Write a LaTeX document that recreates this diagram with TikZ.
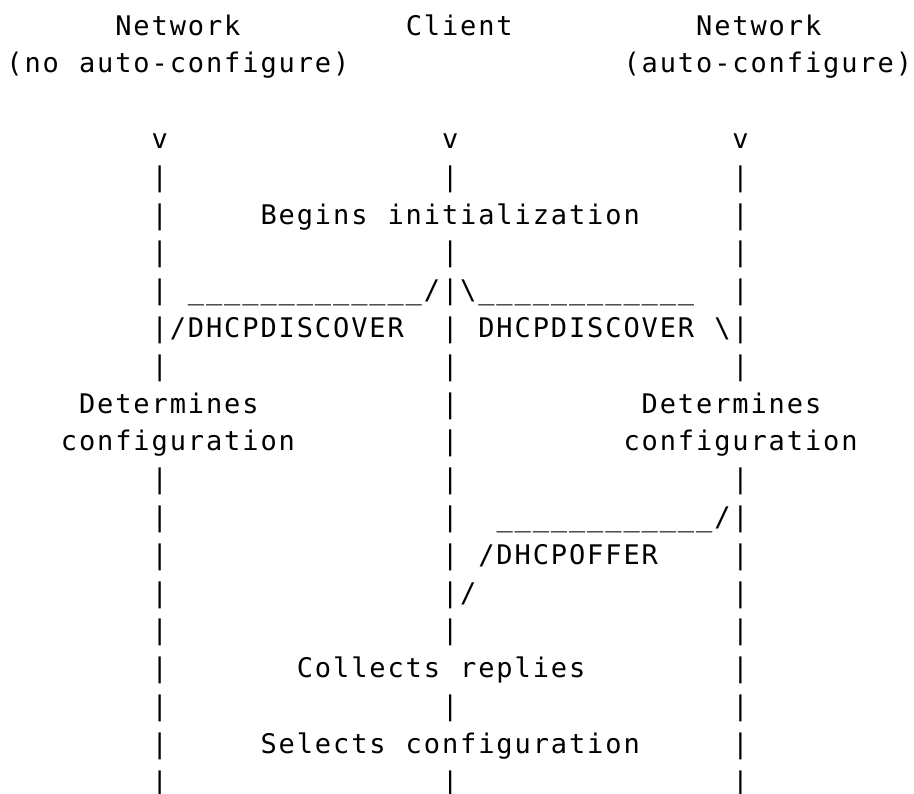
\documentclass[tikz,border=0pt]{standalone}
\usepackage{fontspec}
\newfontfamily\dejamono{DejaVu Sans Mono}
\newlength\cw
\setlength\cw{13.6125pt}
\ExplSyntaxOn
\NewDocumentCommand\mono{m}{\tl_map_inline:nn {#1} {\makebox[\cw][c]{##1}}}
\ExplSyntaxOff
\tikzset{
  declare function={cx(\c)=5.5+\c*18.15; ry(\r)=35+(\r-1)*37.8;},
  txt/.style={anchor=base west, inner sep=0pt, outer sep=0pt, text=black,
    font=\dejamono\fontsize{20.25pt}{24pt}\selectfont},
}
\begin{document}
\begin{tikzpicture}[x=0.75pt,y=-0.75pt]
\fill[white] (0,0) rectangle (914,793);
\useasboundingbox (0,0) rectangle (914,793);
% headers
\node[txt] (hL) at ({cx(6)},{ry(1)}) {\mono{Network}};
\node[txt] (hC) at ({cx(22)},{ry(1)}) {\mono{Client}};
\node[txt] (hR) at ({cx(38)},{ry(1)}) {\mono{Network}};
\node[txt] (sL) at ({cx(0)},{ry(2)}) {\mono{(no~auto-configure)}};
\node[txt] (sR) at ({cx(34)},{ry(2)}) {\mono{(auto-configure)}};
% arrows heads of lifelines
\node[txt] (vL) at ({cx(8)},{ry(4)}) {\mono{v}};
\node[txt] (vC) at ({cx(24)},{ry(4)}) {\mono{v}};
\node[txt] (vR) at ({cx(40)},{ry(4)}) {\mono{v}};
% lifelines
\foreach \r in {5,6,7,8,9,10,13,14,15,16,17,18,19,20,21}{
  \node[txt] (lL\r) at ({cx(8)},{ry(\r)}) {\mono{|}};
  \node[txt] (lR\r) at ({cx(40)},{ry(\r)}) {\mono{|}};
}
\foreach \r in {5,7,8,9,10,11,12,13,14,15,16,17,19,21}{
  \node[txt] (lC\r) at ({cx(24)},{ry(\r)}) {\mono{|}};
}
% messages and actions
\node[txt] (begins) at ({cx(14)},{ry(6)}) {\mono{Begins~initialization}};
\node[txt] (d1a) at ({cx(10)},{ry(8)}) {\mono{\_\_\_\_\_\_\_\_\_\_\_\_\_/}};
\node[txt] (d2a) at ({cx(25)},{ry(8)}) {\mono{\textbackslash\_\_\_\_\_\_\_\_\_\_\_\_}};
\node[txt] (d1b) at ({cx(9)},{ry(9)}) {\mono{/DHCPDISCOVER}};
\node[txt] (d2b) at ({cx(26)},{ry(9)}) {\mono{DHCPDISCOVER}};
\node[txt] (d2c) at ({cx(39)},{ry(9)}) {\mono{\textbackslash}};
\node[txt] (detL) at ({cx(4)},{ry(11)}) {\mono{Determines}};
\node[txt] (detR) at ({cx(35)},{ry(11)}) {\mono{Determines}};
\node[txt] (cfgL) at ({cx(3)},{ry(12)}) {\mono{configuration}};
\node[txt] (cfgR) at ({cx(34)},{ry(12)}) {\mono{configuration}};
\node[txt] (o1) at ({cx(27)},{ry(14)}) {\mono{\_\_\_\_\_\_\_\_\_\_\_\_/}};
\node[txt] (o2) at ({cx(26)},{ry(15)}) {\mono{/DHCPOFFER}};
\node[txt] (o3) at ({cx(25)},{ry(16)}) {\mono{/}};
\node[txt] (collects) at ({cx(16)},{ry(18)}) {\mono{Collects~replies}};
\node[txt] (selects) at ({cx(14)},{ry(20)}) {\mono{Selects~configuration}};
\end{tikzpicture}
\end{document}
